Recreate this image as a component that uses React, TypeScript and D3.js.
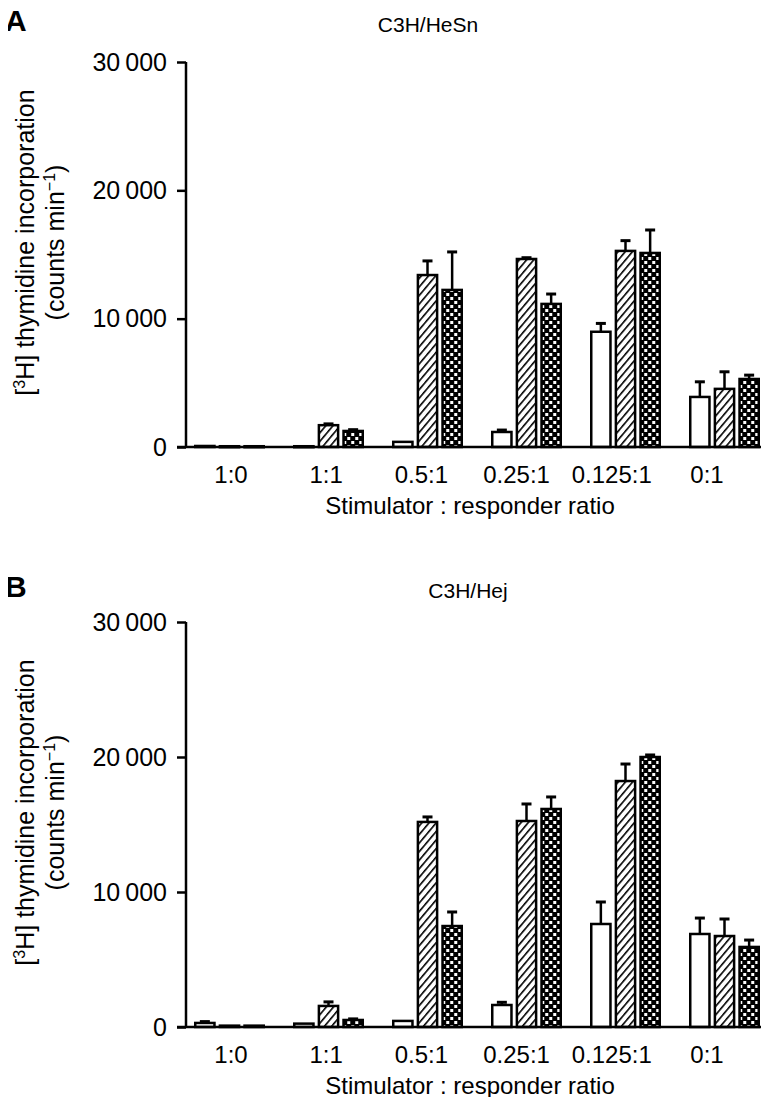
import { useRef, useEffect } from "react";
import * as d3 from "d3";

const W = 773;
const H = 1105;

const CATEGORIES = ["1:0", "1:1", "0.5:1", "0.25:1", "0.125:1", "0:1"];
const SERIES = ["open", "hatched", "checked"];
const Y_TICKS = [0, 10000, 20000, 30000];

// Panel A: C3H/HeSn
const openA = [80, 60, 400, 1170, 8980, 3900];
const openErrA = [0, 0, 0, 150, 650, 1180];
const hatchedA = [60, 1700, 13400, 14650, 15280, 4530];
const hatchedErrA = [0, 100, 1100, 100, 800, 1330];
const checkedA = [60, 1250, 12240, 11150, 15120, 5300];
const checkedErrA = [0, 100, 2960, 770, 1790, 300];

// Panel B: C3H/Hej
const openB = [300, 250, 450, 1630, 7630, 6890];
const openErrB = [100, 0, 0, 200, 1630, 1180];
const hatchedB = [100, 1560, 15190, 15260, 18220, 6740];
const hatchedErrB = [0, 300, 370, 1260, 1260, 1260];
const checkedB = [100, 520, 7480, 16150, 20000, 5930];
const checkedErrB = [0, 80, 1040, 890, 150, 510];

const FONT = "'Liberation Sans', Arial, Helvetica, sans-serif";
const NARROW = "'Liberation Sans Narrow', 'Liberation Sans', Arial, sans-serif";
const FILLS: Record<string, string> = {
  open: "#fff",
  hatched: "url(#hatch)",
  checked: "url(#checks)",
};

interface PanelProps {
  letter: string;
  title: string;
  titleX: number;
  top: number; // y of letter baseline
  y0: number; // pixel of 0
  y30: number; // pixel of 30000
  values: number[][];
  errors: number[][];
}

const AXIS_X = 186;

function Panel({ letter, title, titleX, top, y0, y30, values, errors }: PanelProps) {
  const yAxisRef = useRef<SVGGElement>(null);

  const x0 = d3.scaleBand<string>().domain(CATEGORIES).range([180, 774]);
  const x1 = d3
    .scaleBand<string>()
    .domain(SERIES)
    .range([0, 68.5])
    .paddingInner(0.22);
  const groupPad = (x0.bandwidth() - 68.5) / 2;
  // tick labels sit slightly tighter than the bar groups in the original
  const xLabel = d3.scalePoint<string>().domain(CATEGORIES).range([231, 707]);
  const y = d3.scaleLinear().domain([0, 30000]).range([y0, y30]);

  useEffect(() => {
    if (!yAxisRef.current) return;
    d3.select(yAxisRef.current)
      .call(
        d3
          .axisLeft(y)
          .tickValues(Y_TICKS)
          .tickSize(9)
          .tickPadding(10)
          .tickFormat((d) => d3.format(",")(d as number).replace(",", "\u2009"))
      )
      .call((g) => g.select(".domain").attr("stroke", "#000").attr("stroke-width", 2.5).attr("d", `M0,${y0}V${y30}`))
      .call((g) => g.selectAll(".tick line").attr("stroke", "#000").attr("stroke-width", 2.5))
      .call((g) =>
        g
          .selectAll<SVGTextElement, unknown>(".tick text")
          .attr("fill", "#000")
          .attr("font-size", 25)
          .attr("font-family", FONT)
      );
  }, [y0, y30]);

  const yMid = (y0 + y30) / 2 - 12;

  return (
    <g>
      <text x={5} y={top} fontFamily={FONT} fontSize={30} fontWeight="bold">
        {letter}
      </text>
      <text x={titleX} y={top + 1} textAnchor="middle" fontFamily={NARROW} fontSize={21}>
        {title}
      </text>

      {/* y axis title */}
      <g fontFamily={FONT} fontSize={25} textAnchor="middle">
        <text transform={`translate(34,${yMid}) rotate(-90)`}>
          [<tspan fontSize={16} dy={-9}>3</tspan>
          <tspan dy={9}>H] thymidine incorporation</tspan>
        </text>
        <text transform={`translate(64,${yMid}) rotate(-90)`}>
          (counts min<tspan fontSize={16} dy={-9}>−1</tspan>
          <tspan dy={9}>)</tspan>
        </text>
      </g>

      {/* bars */}
      {CATEGORIES.map((c, ci) => (
        <g key={c} transform={`translate(${x0(c)! + groupPad},0)`}>
          {SERIES.map((s, si) => {
            const v = values[si][ci];
            const e = errors[si][ci];
            const bx = x1(s)!;
            const bw = x1.bandwidth();
            const cx = bx + bw / 2;
            return (
              <g key={s}>
                {e > 0 && (
                  <g stroke="#000" strokeWidth={2.5}>
                    <line x1={cx} x2={cx} y1={y(v)} y2={y(v + e)} />
                    <line x1={cx - 5} x2={cx + 5} y1={y(v + e)} y2={y(v + e)} strokeWidth={3} />
                  </g>
                )}
                <rect
                  x={bx}
                  y={y(v)}
                  width={bw}
                  height={Math.max(y0 - y(v), 1)}
                  fill={FILLS[s]}
                  stroke="#000"
                  strokeWidth={2.5}
                />
              </g>
            );
          })}
        </g>
      ))}

      {/* x axis */}
      <line x1={AXIS_X - 9} x2={761} y1={y0} y2={y0} stroke="#000" strokeWidth={2.5} />
      <g transform={`translate(${AXIS_X},0)`} ref={yAxisRef} />

      {CATEGORIES.map((c) => (
        <text
          key={c}
          x={xLabel(c)!}
          y={y0 + 36}
          textAnchor="middle"
          fontFamily={FONT}
          fontSize={24}
        >
          {c}
        </text>
      ))}
      <text x={470} y={y0 + 67} textAnchor="middle" fontFamily={FONT} fontSize={24}>
        Stimulator : responder ratio
      </text>
    </g>
  );
}

export default function App() {
  return (
    <svg width={W} height={H} style={{ display: "block", margin: -8 }}>
      <defs>
        <pattern id="hatch" patternUnits="userSpaceOnUse" width={5.5} height={5.5} patternTransform="rotate(40)">
          <rect width={5.5} height={5.5} fill="#fff" />
          <line x1={0} y1={0} x2={0} y2={5.5} stroke="#000" strokeWidth={3.2} />
        </pattern>
        <pattern id="checks" patternUnits="userSpaceOnUse" width={8} height={8}>
          <rect width={8} height={8} fill="#000" />
          <rect x={1} y={1} width={3} height={3} fill="#fff" />
          <rect x={5} y={5} width={3} height={3} fill="#fff" />
        </pattern>
      </defs>
      <rect width={W} height={H} fill="#fff" />
      <Panel
        letter="A"
        title="C3H/HeSn"
        titleX={428}
        top={31}
        y0={447}
        y30={62}
        values={[openA, hatchedA, checkedA]}
        errors={[openErrA, hatchedErrA, checkedErrA]}
      />
      <Panel
        letter="B"
        title="C3H/Hej"
        titleX={468}
        top={597}
        y0={1027}
        y30={622}
        values={[openB, hatchedB, checkedB]}
        errors={[openErrB, hatchedErrB, checkedErrB]}
      />
    </svg>
  );
}
